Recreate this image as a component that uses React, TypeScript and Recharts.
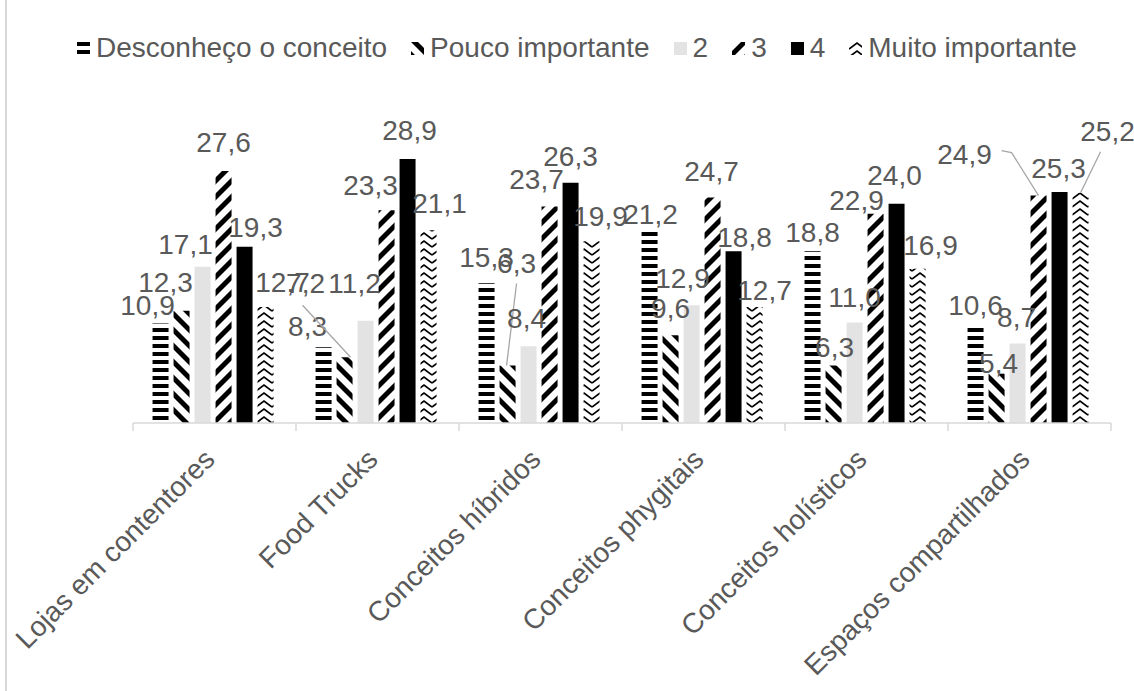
import React from "react";
import { BarChart, Bar, XAxis, YAxis, LabelList } from "recharts";

const categories = [
  "Lojas em contentores",
  "Food Trucks",
  "Conceitos híbridos",
  "Conceitos phygitais",
  "Conceitos holísticos",
  "Espaços compartilhados",
];

const desconheco = [10.9, 8.3, 15.3, 21.2, 18.8, 10.6];
const poucoImportante = [12.3, 7.2, 6.3, 9.6, 6.3, 5.4];
const nivel2 = [17.1, 11.2, 8.4, 12.9, 11.0, 8.7];
const nivel3 = [27.6, 23.3, 23.7, 24.7, 22.9, 24.9];
const nivel4 = [19.3, 28.9, 26.3, 18.8, 24.0, 25.3];
const muitoImportante = [12.7, 21.1, 19.9, 12.7, 16.9, 25.2];

const seriesNames = ["Desconheço o conceito", "Pouco importante", "2", "3", "4", "Muito importante"];
const seriesValues = [desconheco, poucoImportante, nivel2, nivel3, nivel4, muitoImportante];

const rows = categories.map((name, i) => {
  const row: Record<string, string | number> = { name };
  seriesValues.forEach((vals, s) => {
    row["s" + s] = vals[i];
  });
  return row;
});

const FONT = '"Liberation Sans", Arial, sans-serif';
const TEXT = "#595959";
const GRID = "#d9d9d9";

const fills = ["url(#p-horz)", "url(#p-dn)", "#e3e3e3", "url(#p-up)", "#000000", "url(#p-zig)"];

// hand nudges for the data labels, [dx, dy] from the spot centred 26px above the bar
const labelShift: number[][][] = [
  [[-13, 8], [-16, 5], [0, 0], [1, 11], [0, 7], [0, 5]],
  [[-16, -3], [-39, -48], [9, -76], [0, -1], [1, 8], [2, 15]],
  [[-17, 3], [-11, -12], [-2, -2], [-9, -1], [0, 0], [-1, -1]],
  [[0, -3], [-16, 1], [-13, -2], [-1, 0], [-19, 12], [-74, -16]],
  [[11, 6], [2, -3], [0, -1], [11, 12], [-2, -3], [-1, 2]],
  [[17, 1], [11, -1], [9, 1], [10, 9], [13, 2], [27, -36]],
];

// leader lines: points relative to label centre, end relative to bar top centre
const leaders: Record<string, { from: number[][]; to: number[] }> = {
  "1-1": { from: [[-3, 22]], to: [6, 0] },
  "1-2": { from: [[0, 20]], to: [-1, 0] },
  "3-5": { from: [[37, -3], [47, -1]], to: [0, 0] },
  "5-5": { from: [[-7, 21]], to: [0, 0] },
};

const fmt = (v: number) => Number(v).toFixed(1).replace(".", ",");

function makeLabel(s: number) {
  return (props: any) => {
    const vb = props.viewBox && props.viewBox.width !== undefined ? props.viewBox : props;
    const x = Number(vb.x);
    const y = Number(vb.y);
    const w = Number(vb.width);
    const i = props.index;
    const [dx, dy] = (labelShift[s] && labelShift[s][i]) || [0, 0];
    const bx = x + w / 2;
    const cx = bx + dx;
    const cy = y - 26 + dy;
    const ld = leaders[`${s}-${i}`];
    let leader = null;
    if (ld) {
      const pts = ld.from.map(([a, b]) => `${cx + a},${cy + b}`);
      pts.push(`${bx + ld.to[0]},${y + ld.to[1]}`);
      leader = <polyline points={pts.join(" ")} fill="none" stroke="#a6a6a6" strokeWidth={1.3} />;
    }
    return (
      <g>
        {leader}
        <text x={cx} y={cy + 10} textAnchor="middle" fontSize={28} fill={TEXT} fontFamily={FONT}>
          {fmt(props.value)}
        </text>
      </g>
    );
  };
}

const CategoryTick = (props: any) => {
  const { x, y, payload, index } = props;
  const half = payload && payload.offset ? payload.offset : 81.5;
  const ax = x + 2;
  const ay = y + 38;
  return (
    <g>
      <line x1={x - half} x2={x - half} y1={y} y2={y + 8} stroke={GRID} strokeWidth={1.5} />
      {index === categories.length - 1 && (
        <line x1={x + half} x2={x + half} y1={y} y2={y + 8} stroke={GRID} strokeWidth={1.5} />
      )}
      <text
        x={ax}
        y={ay}
        transform={`rotate(-45 ${ax} ${ay})`}
        textAnchor="end"
        fontSize={28}
        fill={TEXT}
        fontFamily={FONT}
      >
        {payload.value}
      </text>
    </g>
  );
};

function Patterns() {
  return (
    <svg width={0} height={0} style={{ position: "absolute" }}>
      <defs>
        <pattern id="p-horz" width={8} height={8} patternUnits="userSpaceOnUse">
          <rect width={8} height={4} fill="#000" />
        </pattern>
        <pattern id="p-dn" width={16} height={16} patternUnits="userSpaceOnUse">
          <polygon points="0,0 7,0 16,9 16,16" fill="#000" />
          <polygon points="0,9 7,16 0,16" fill="#000" />
        </pattern>
        <pattern id="p-up" width={16} height={16} patternUnits="userSpaceOnUse">
          <polygon points="9,0 16,0 0,16 0,9" fill="#000" />
          <polygon points="16,9 16,16 9,16" fill="#000" />
        </pattern>
        <pattern id="p-zig" width={16} height={8} patternUnits="userSpaceOnUse">
          <path d="M0,7 L8,1 L16,7" stroke="#000" strokeWidth={1.6} fill="none" />
        </pattern>
      </defs>
    </svg>
  );
}

function ChartLegend() {
  return (
    <div
      style={{
        position: "absolute",
        top: 34,
        left: 77,
        display: "flex",
        justifyContent: "flex-start",
        alignItems: "center",
        gap: 24,
        fontFamily: FONT,
        fontSize: 28,
        lineHeight: "28px",
        color: TEXT,
        whiteSpace: "nowrap",
      }}
    >
      {seriesNames.map((name, s) => (
        <div key={name} style={{ display: "flex", alignItems: "center" }}>
          <svg width={13} height={13} style={{ marginRight: 6 }}>
            <rect width={13} height={13} fill={fills[s]} />
          </svg>
          <span>{name}</span>
        </div>
      ))}
    </div>
  );
}

export default function App() {
  return (
    <div
      style={{
        position: "absolute",
        left: 0,
        top: 0,
        width: 1134,
        height: 691,
        background: "#fff",
        overflow: "hidden",
      }}
    >
      <Patterns />
      <div style={{ position: "absolute", left: 5, top: 0, width: 1.5, height: 691, background: GRID }} />
      <ChartLegend />
      <BarChart
        width={1134}
        height={691}
        data={rows}
        margin={{ top: 149, right: 23, left: 133, bottom: 0 }}
        barCategoryGap="12%"
        barGap={5}
      >
        <XAxis
          dataKey="name"
          height={268}
          axisLine={{ stroke: GRID, strokeWidth: 1.5 }}
          tickLine={false}
          tickSize={0}
          tickMargin={0}
          interval={0}
          tick={<CategoryTick />}
        />
        <YAxis hide domain={[0, 30]} />
        {seriesNames.map((name, s) => (
          <Bar key={name} dataKey={"s" + s} name={name} fill={fills[s]} isAnimationActive={false}>
            <LabelList dataKey={"s" + s} content={makeLabel(s)} />
          </Bar>
        ))}
      </BarChart>
    </div>
  );
}
